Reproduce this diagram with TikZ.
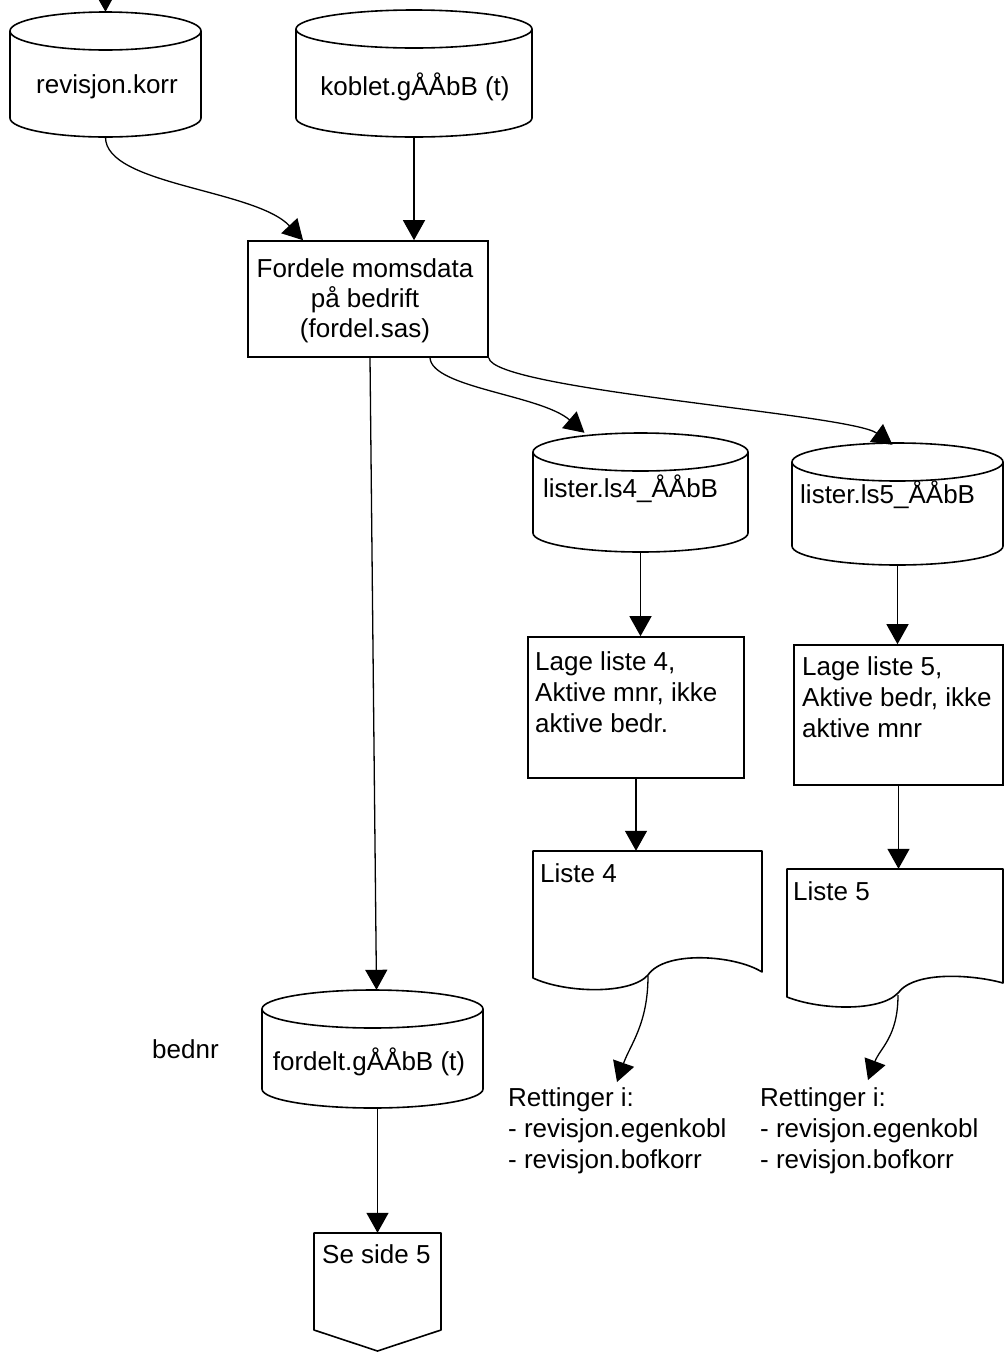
\documentclass[tikz,border=0pt]{standalone}
\usepackage{fontspec}
\setmainfont{Liberation Sans}
\usetikzlibrary{arrows.meta}
\tikzset{
  shp/.style={line width=1.6pt, line join=round},
  boxnode/.style={draw, line width=1.6pt, inner sep=0pt},
  hold/.style={inner sep=0pt},
  arr/.style={line width=1.3pt, -{Triangle[width=22pt,length=20pt]}},
  txt/.style={font=\fontsize{26}{31}\selectfont, inner sep=0pt, align=left},
  ctxt/.style={font=\fontsize{26}{30}\selectfont, inner sep=0pt, align=center},
}
\newcommand\dbcyl[5]{%
  \pgfmathsetmacro\cyw{#4-#2}%
  \pgfmathsetmacro\cyh{#5-#3}%
  \pgfmathsetmacro\cyrx{(#4-#2)/2}%
  \draw[shp] (#2,#3+19) arc[start angle=180,end angle=-180,x radius=\cyrx pt,y radius=19pt]
     -- (#2,#5-19) arc[start angle=180,end angle=360,x radius=\cyrx pt,y radius=19pt] -- (#4,#3+19);
  \node[hold,minimum width=\cyw pt,minimum height=\cyh pt] (#1) at ({(#2+#4)/2},{(#3+#5)/2}) {};
}
\begin{document}
\begin{tikzpicture}[x=1pt,y=-1pt]
\fill[white] (0,0) rectangle (1005,1353);
\useasboundingbox (0,0) rectangle (1005,1353);

% data stores
\dbcyl{rk}{10}{12}{201}{137}
\dbcyl{kb}{296}{10}{532}{137}
\dbcyl{lsa}{533}{433}{748}{552}
\dbcyl{lsb}{792}{443}{1003}{565}
\dbcyl{fdt}{262}{990}{483}{1108}

\node[txt,anchor=base] at (107,93) {revisjon.korr};
\node[txt,anchor=base] at (415,95) {koblet.gÅÅbB (t)};
\node[txt,anchor=base west] at (543,497) {lister.ls4\_ÅÅbB};
\node[txt,anchor=base west] at (800,503) {lister.ls5\_ÅÅbB};
\node[txt,anchor=base] at (369,1070) {fordelt.gÅÅbB (t)};
\node[txt,anchor=base west] at (152,1058) {bednr};

% process boxes
\node[boxnode,minimum width=240pt,minimum height=116pt] (fd) at (368,299) {};
\node[ctxt,anchor=north] at (365,258) {Fordele momsdata\\på bedrift\\(fordel.sas)};

\node[boxnode,minimum width=216pt,minimum height=141pt] (lga) at (636,707.5) {};
\node[txt,anchor=north west] at (535,651) {Lage liste 4,\\Aktive mnr, ikke\\aktive bedr.};

\node[boxnode,minimum width=209pt,minimum height=140pt] (lgb) at (898.5,715) {};
\node[txt,anchor=north west] at (802,656) {Lage liste 5,\\Aktive bedr, ikke\\aktive mnr};

% documents
\node[hold,minimum width=230pt,minimum height=129pt] (lia) at (647,915.5) {};
\draw[shp] (533,851) -- (762,851) -- (762,972)
  .. controls (735,955) and (665,950) .. (648,975)
  .. controls (630,995) and (565,993) .. (533,978) -- cycle;
\coordinate (lia-out) at (648,976);
\node[txt,anchor=base west] at (540,882) {Liste 4};

\node[hold,minimum width=217pt,minimum height=128pt] (lib) at (895,933) {};
\draw[shp] (787,869) -- (1003,869) -- (1003,983)
  .. controls (975,975) and (915,970) .. (898,993)
  .. controls (880,1012) and (820,1010) .. (787,997) -- cycle;
\coordinate (lib-out) at (898,995);
\node[txt,anchor=base west] at (793,900) {Liste 5};

% off-page connector
\node[hold,minimum width=127pt,minimum height=118pt] (se) at (377.5,1292) {};
\draw[shp] (314,1233) -- (441,1233) -- (441,1330) -- (377.5,1351) -- (314,1330) -- cycle;
\node[txt,anchor=base west] at (322,1263) {Se side 5};

% correction notes
\node[txt,anchor=north west] (ra) at (508,1087) {Rettinger i:\\- revisjon.egenkobl\\- revisjon.bofkorr};
\node[txt,anchor=north west] (rb) at (760,1087) {Rettinger i:\\- revisjon.egenkobl\\- revisjon.bofkorr};

% connectors
\coordinate (topin) at (105,-40);
\draw[arr] (topin) -- (rk.north);
\draw[arr] (rk.south) .. controls +(0,48) and +(-48,-51) .. ([xshift=-65pt]fd.north);
\draw[arr] (kb.south) -- (kb.south |- fd.north);
\draw[arr] ([xshift=2pt]fd.south) -- ([xshift=4pt]fdt.north);
\draw[arr] ([xshift=62pt]fd.south) .. controls +(2,30) and +(-44,-38) .. ([xshift=-56pt]lsa.north);
\draw[arr] (fd.south east) .. controls +(4,32) and +(-42,-31) .. ([xshift=-5pt,yshift=-2pt]lsb.north);
\draw[arr] (lsa.south) -- (lsa.south |- lga.north);
\draw[arr] (lga.south) -- (lga.south |- lia.north);
\draw[arr] (lsb.south) -- (lsb.south |- lgb.north);
\draw[arr] (lgb.south) -- (lgb.south |- lib.north);
\draw[arr] (fdt.south -| se.north) -- (se.north);
\draw[arr] (lia-out) .. controls +(0,48) and +(13,-37) .. ([xshift=109pt,yshift=5pt]ra.north west);
\draw[arr] (lib-out) .. controls +(0,42) and +(12,-32) .. ([xshift=108pt,yshift=7pt]rb.north west);
\end{tikzpicture}
\end{document}
